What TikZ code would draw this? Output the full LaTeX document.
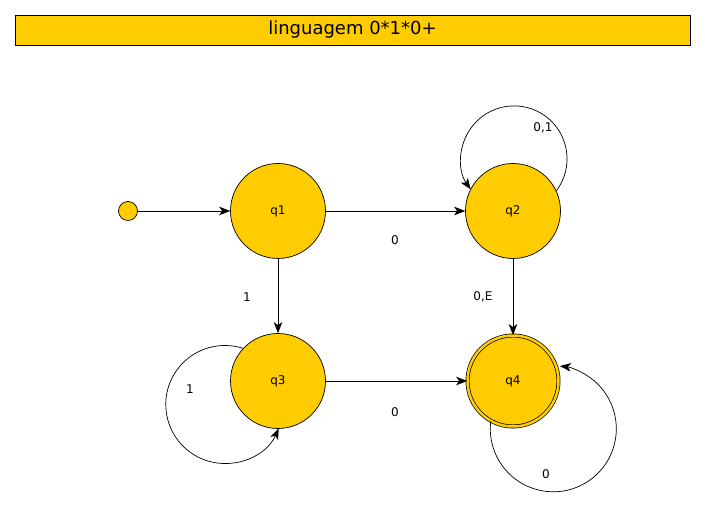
\documentclass[tikz,border=0pt]{standalone}
\usepackage{fontspec}
\setmainfont{DejaVu Sans}
\usetikzlibrary{arrows.meta}

\definecolor{stateyellow}{HTML}{FFCC00}

\tikzset{
  state/.style={circle, draw, fill=stateyellow, minimum size=95pt, inner sep=0pt, font=\fontsize{12}{14}\selectfont},
  initdot/.style={circle, draw, fill=stateyellow, minimum size=19pt, inner sep=0pt},
  lbl/.style={font=\fontsize{12}{14}\selectfont},
  edge/.style={-{Stealth[length=11pt,width=8.5pt,inset=3pt]}, line width=0.7pt},
}

\begin{document}
\begin{tikzpicture}[x=1pt, y=1pt, line width=0.7pt]
  \useasboundingbox (0,0) rectangle (705,510);

  % title bar
  \node[draw, fill=stateyellow, minimum width=675pt, minimum height=30pt, inner sep=0pt,
        font=\fontsize{18}{20}\selectfont] (title) at (352.5,480) {linguagem 0*1*0+};

  % states
  \node[initdot] (init) at (128,299) {};
  \node[state] (q1) at (278,299) {q1};
  \node[state] (q2) at (513,299) {q2};
  \node[state] (q3) at (278,129) {q3};
  \node[state, double=stateyellow, double distance=2.5pt, minimum size=91pt] (q4) at (513,129) {q4};

  % transitions
  \draw[edge] (init) -- (q1);
  \draw[edge] (q1) -- (q2);
  \draw[edge] (q1) -- (q3);
  \draw[edge] (q2) -- (q4);
  \draw[edge] (q3) -- (q4);

  % loops
  \draw[edge] (q2.25) arc[start angle=-37, end angle=215, radius=53];
  \draw[edge] (q3.137) arc[start angle=72, end angle=336, radius=59];
  \draw[edge] (q4.241) arc[start angle=173, end angle=444, radius=63];

  % labels
  \node[lbl] (l12) at (395,270) {0};
  \node[lbl] (l13) at (247,213) {1};
  \node[lbl] (l24) at (483,213) {0,E};
  \node[lbl] (l34) at (395,98) {0};
  \node[lbl] (l22) at (543,382) {0,1};
  \node[lbl] (l33) at (190,121) {1};
  \node[lbl] (l44) at (546,36) {0};
\end{tikzpicture}
\end{document}
